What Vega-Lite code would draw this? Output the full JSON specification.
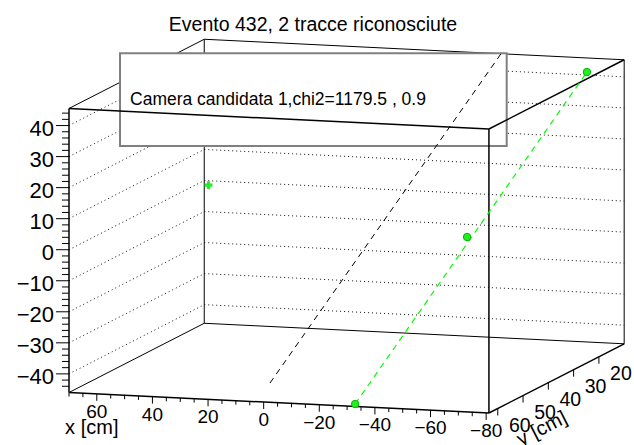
{
  "$schema": "https://vega.github.io/schema/vega-lite/v6.json",
  "width": 634,
  "height": 445,
  "padding": 0,
  "autosize": {"type": "none"},
  "background": "white",
  "config": {"view": {"stroke": null}, "text": {"font": "Liberation Sans", "color": "black"}},
  "title": {"text": "Evento 432, 2 tracce riconosciute", "anchor": "middle", "offset": -50, "baseline": "alphabetic", "fontSize": 19.5, "font": "Liberation Sans", "fontWeight": "normal", "color": "black", "dx": -4},
  "datasets": {
    "pave": [{"left": 0.1893, "right": 0.7992, "top": 0.8802, "bottom": 0.6719, "label": "Camera candidata 1,chi2=1179.5 , 0.9"}],
    "scene": [
      {"part": "back", "x1": 70, "y1": 10, "z1": -46, "x2": 70, "y2": 10, "z2": 45.5},
      {"part": "back", "x1": 70, "y1": 10, "z1": 45.5, "x2": -81, "y2": 10, "z2": 45.5},
      {"part": "back", "x1": 70, "y1": 10, "z1": -46, "x2": -81, "y2": 10, "z2": -46},
      {"part": "back", "x1": -81, "y1": 10, "z1": -46, "x2": -81, "y2": 10, "z2": 45.5},
      {"part": "back", "x1": 70, "y1": 63.5, "z1": 45.5, "x2": 70, "y2": 10, "z2": 45.5},
      {"part": "back", "x1": 70, "y1": 63.5, "z1": -46, "x2": 70, "y2": 10, "z2": -46},
      {"part": "grid", "x1": 70, "y1": 10, "z1": 40, "x2": -81, "y2": 10, "z2": 40},
      {"part": "grid", "x1": 70, "y1": 10, "z1": 30, "x2": -81, "y2": 10, "z2": 30},
      {"part": "grid", "x1": 70, "y1": 10, "z1": 20, "x2": -81, "y2": 10, "z2": 20},
      {"part": "grid", "x1": 70, "y1": 10, "z1": 10, "x2": -81, "y2": 10, "z2": 10},
      {"part": "grid", "x1": 70, "y1": 10, "z1": 0, "x2": -81, "y2": 10, "z2": 0},
      {"part": "grid", "x1": 70, "y1": 10, "z1": -10, "x2": -81, "y2": 10, "z2": -10},
      {"part": "grid", "x1": 70, "y1": 10, "z1": -20, "x2": -81, "y2": 10, "z2": -20},
      {"part": "grid", "x1": 70, "y1": 10, "z1": -30, "x2": -81, "y2": 10, "z2": -30},
      {"part": "grid", "x1": 70, "y1": 10, "z1": -40, "x2": -81, "y2": 10, "z2": -40},
      {"part": "grid", "x1": 70, "y1": 63.5, "z1": 40, "x2": 70, "y2": 10, "z2": 40},
      {"part": "grid", "x1": 70, "y1": 63.5, "z1": 30, "x2": 70, "y2": 10, "z2": 30},
      {"part": "grid", "x1": 70, "y1": 63.5, "z1": 20, "x2": 70, "y2": 10, "z2": 20},
      {"part": "grid", "x1": 70, "y1": 63.5, "z1": 10, "x2": 70, "y2": 10, "z2": 10},
      {"part": "grid", "x1": 70, "y1": 63.5, "z1": 0, "x2": 70, "y2": 10, "z2": 0},
      {"part": "grid", "x1": 70, "y1": 63.5, "z1": -10, "x2": 70, "y2": 10, "z2": -10},
      {"part": "grid", "x1": 70, "y1": 63.5, "z1": -20, "x2": 70, "y2": 10, "z2": -20},
      {"part": "grid", "x1": 70, "y1": 63.5, "z1": -30, "x2": 70, "y2": 10, "z2": -30},
      {"part": "grid", "x1": 70, "y1": 63.5, "z1": -40, "x2": 70, "y2": 10, "z2": -40},
      {"part": "front", "x1": 70, "y1": 63.5, "z1": -46, "x2": 70, "y2": 63.5, "z2": 45.5},
      {"part": "front", "x1": 70, "y1": 63.5, "z1": 45.5, "x2": -81, "y2": 63.5, "z2": 45.5},
      {"part": "front", "x1": 70, "y1": 63.5, "z1": -46, "x2": -81, "y2": 63.5, "z2": -46},
      {"part": "front", "x1": -81, "y1": 63.5, "z1": -46, "x2": -81, "y2": 63.5, "z2": 45.5},
      {"part": "front", "x1": -81, "y1": 63.5, "z1": 45.5, "x2": -81, "y2": 10, "z2": 45.5},
      {"part": "front", "x1": -81, "y1": 63.5, "z1": -46, "x2": -81, "y2": 10, "z2": -46},
      {"part": "black", "x1": 10.1, "y1": 49.9, "z1": -46, "x2": -36.7, "y2": 10, "z2": 45.5},
      {"part": "green", "x1": -31.3, "y1": 61.75, "z1": -46, "x2": -76.6, "y2": 19.9, "z2": 45.5},
      {"part": "hit", "x1": -76.6, "y1": 19.9, "z1": 45.5},
      {"part": "hit", "x1": -52.5, "y1": 40.8, "z1": 0},
      {"part": "hit", "x1": -31.3, "y1": 61.75, "z1": -46},
      {"part": "cross", "x1": 68, "y1": 10.5, "z1": -1.2},
      {"part": "title", "axis": "x", "x1": 71.4, "y1": 63.5, "z1": -59.4, "label": "x [cm]"},
      {"part": "title", "axis": "y", "x1": -77, "y1": 37, "z1": -64, "label": "y [cm]"},
      {"part": "tick", "axis": "z", "v": 40, "major": true, "label": "40"},
      {"part": "tick", "axis": "z", "v": 30, "major": true, "label": "30"},
      {"part": "tick", "axis": "z", "v": 20, "major": true, "label": "20"},
      {"part": "tick", "axis": "z", "v": 10, "major": true, "label": "10"},
      {"part": "tick", "axis": "z", "v": 0, "major": true, "label": "0"},
      {"part": "tick", "axis": "z", "v": -10, "major": true, "label": "−10"},
      {"part": "tick", "axis": "z", "v": -20, "major": true, "label": "−20"},
      {"part": "tick", "axis": "z", "v": -30, "major": true, "label": "−30"},
      {"part": "tick", "axis": "z", "v": -40, "major": true, "label": "−40"},
      {"part": "tick", "axis": "z", "v": 44, "major": false},
      {"part": "tick", "axis": "z", "v": 42, "major": false},
      {"part": "tick", "axis": "z", "v": 38, "major": false},
      {"part": "tick", "axis": "z", "v": 36, "major": false},
      {"part": "tick", "axis": "z", "v": 34, "major": false},
      {"part": "tick", "axis": "z", "v": 32, "major": false},
      {"part": "tick", "axis": "z", "v": 28, "major": false},
      {"part": "tick", "axis": "z", "v": 26, "major": false},
      {"part": "tick", "axis": "z", "v": 24, "major": false},
      {"part": "tick", "axis": "z", "v": 22, "major": false},
      {"part": "tick", "axis": "z", "v": 18, "major": false},
      {"part": "tick", "axis": "z", "v": 16, "major": false},
      {"part": "tick", "axis": "z", "v": 14, "major": false},
      {"part": "tick", "axis": "z", "v": 12, "major": false},
      {"part": "tick", "axis": "z", "v": 8, "major": false},
      {"part": "tick", "axis": "z", "v": 6, "major": false},
      {"part": "tick", "axis": "z", "v": 4, "major": false},
      {"part": "tick", "axis": "z", "v": 2, "major": false},
      {"part": "tick", "axis": "z", "v": -2, "major": false},
      {"part": "tick", "axis": "z", "v": -4, "major": false},
      {"part": "tick", "axis": "z", "v": -6, "major": false},
      {"part": "tick", "axis": "z", "v": -8, "major": false},
      {"part": "tick", "axis": "z", "v": -12, "major": false},
      {"part": "tick", "axis": "z", "v": -14, "major": false},
      {"part": "tick", "axis": "z", "v": -16, "major": false},
      {"part": "tick", "axis": "z", "v": -18, "major": false},
      {"part": "tick", "axis": "z", "v": -22, "major": false},
      {"part": "tick", "axis": "z", "v": -24, "major": false},
      {"part": "tick", "axis": "z", "v": -26, "major": false},
      {"part": "tick", "axis": "z", "v": -28, "major": false},
      {"part": "tick", "axis": "z", "v": -32, "major": false},
      {"part": "tick", "axis": "z", "v": -34, "major": false},
      {"part": "tick", "axis": "z", "v": -36, "major": false},
      {"part": "tick", "axis": "z", "v": -38, "major": false},
      {"part": "tick", "axis": "z", "v": -42, "major": false},
      {"part": "tick", "axis": "z", "v": -44, "major": false},
      {"part": "tick", "axis": "x", "v": 60, "major": true, "label": "60"},
      {"part": "tick", "axis": "x", "v": 40, "major": true, "label": "40"},
      {"part": "tick", "axis": "x", "v": 20, "major": true, "label": "20"},
      {"part": "tick", "axis": "x", "v": 0, "major": true, "label": "0"},
      {"part": "tick", "axis": "x", "v": -20, "major": true, "label": "−20"},
      {"part": "tick", "axis": "x", "v": -40, "major": true, "label": "−40"},
      {"part": "tick", "axis": "x", "v": -60, "major": true, "label": "−60"},
      {"part": "tick", "axis": "x", "v": -80, "major": true, "label": "−80"},
      {"part": "tick", "axis": "x", "v": 70, "major": false},
      {"part": "tick", "axis": "x", "v": 65, "major": false},
      {"part": "tick", "axis": "x", "v": 55, "major": false},
      {"part": "tick", "axis": "x", "v": 50, "major": false},
      {"part": "tick", "axis": "x", "v": 45, "major": false},
      {"part": "tick", "axis": "x", "v": 35, "major": false},
      {"part": "tick", "axis": "x", "v": 30, "major": false},
      {"part": "tick", "axis": "x", "v": 25, "major": false},
      {"part": "tick", "axis": "x", "v": 15, "major": false},
      {"part": "tick", "axis": "x", "v": 10, "major": false},
      {"part": "tick", "axis": "x", "v": 5, "major": false},
      {"part": "tick", "axis": "x", "v": -5, "major": false},
      {"part": "tick", "axis": "x", "v": -10, "major": false},
      {"part": "tick", "axis": "x", "v": -15, "major": false},
      {"part": "tick", "axis": "x", "v": -25, "major": false},
      {"part": "tick", "axis": "x", "v": -30, "major": false},
      {"part": "tick", "axis": "x", "v": -35, "major": false},
      {"part": "tick", "axis": "x", "v": -45, "major": false},
      {"part": "tick", "axis": "x", "v": -50, "major": false},
      {"part": "tick", "axis": "x", "v": -55, "major": false},
      {"part": "tick", "axis": "x", "v": -65, "major": false},
      {"part": "tick", "axis": "x", "v": -70, "major": false},
      {"part": "tick", "axis": "x", "v": -75, "major": false},
      {"part": "tick", "axis": "y", "v": 60, "major": true, "label": "60"},
      {"part": "tick", "axis": "y", "v": 50, "major": true, "label": "50"},
      {"part": "tick", "axis": "y", "v": 40, "major": true, "label": "40"},
      {"part": "tick", "axis": "y", "v": 30, "major": true, "label": "30"},
      {"part": "tick", "axis": "y", "v": 20, "major": true, "label": "20"}
    ]
  },
  "data": {"name": "scene"},
  "transform": [
    {"calculate": "datum.part == 'tick' ? (datum.axis == 'x' ? datum.v : (datum.axis == 'y' ? -81 : 70)) : datum.x1", "as": "x1"},
    {"calculate": "datum.part == 'tick' ? (datum.axis == 'y' ? datum.v : 63.5) : datum.y1", "as": "y1"},
    {"calculate": "datum.part == 'tick' ? (datum.axis == 'z' ? datum.v : -46) : datum.z1", "as": "z1"},
    {"calculate": "69 + (70 - datum.x1) * 2.781 + (63.5 - datum.y1) * 2.528", "as": "sx"},
    {"calculate": "392.5 + (70 - datum.x1) * 0.136 - (63.5 - datum.y1) * 1.294 - (datum.z1 + 46) * 3.104", "as": "sy"},
    {"calculate": "datum.part == 'tick' ? datum.sx - (datum.axis == 'z' ? (datum.major ? 13 : 7) : 0) : 69 + (70 - datum.x2) * 2.781 + (63.5 - datum.y2) * 2.528", "as": "ex"},
    {"calculate": "datum.part == 'tick' ? datum.sy + (datum.axis == 'z' ? 0 : (datum.major ? 7 : 4)) : 392.5 + (70 - datum.x2) * 0.136 - (63.5 - datum.y2) * 1.294 - (datum.z2 + 46) * 3.104", "as": "ey"}
  ],
  "encoding": {
    "x": {"field": "sx", "type": "quantitative", "scale": {"domain": [0, 634], "nice": false, "zero": false}, "axis": null},
    "y": {"field": "sy", "type": "quantitative", "scale": {"domain": [445, 0], "nice": false, "zero": false}, "axis": null}
  },
  "layer": [
    {
      "transform": [{"filter": "datum.part == 'back'"}],
      "mark": {"type": "rule", "color": "black", "strokeWidth": 1},
      "encoding": {"x2": {"field": "ex"}, "y2": {"field": "ey"}}
    },
    {
      "transform": [{"filter": "datum.part == 'grid'"}],
      "mark": {"type": "rule", "color": "#111111", "strokeWidth": 1, "strokeDash": [1, 3]},
      "encoding": {"x2": {"field": "ex"}, "y2": {"field": "ey"}}
    },
    {
      "data": {"name": "pave"},
      "transform": [
        {"calculate": "datum.left * 634", "as": "sx"},
        {"calculate": "datum.right * 634", "as": "ex"},
        {"calculate": "(1 - datum.top) * 445", "as": "sy"},
        {"calculate": "(1 - datum.bottom) * 445", "as": "ey"}
      ],
      "mark": {"type": "rect", "fill": "white", "stroke": "#808080", "strokeWidth": 2},
      "encoding": {"x2": {"field": "ex"}, "y2": {"field": "ey"}}
    },
    {
      "data": {"name": "pave"},
      "transform": [
        {"calculate": "datum.left * 634", "as": "sx"},
        {"calculate": "(1 - (datum.top + datum.bottom) / 2) * 445", "as": "sy"}
      ],
      "mark": {"type": "text", "align": "left", "baseline": "middle", "dx": 10, "fontSize": 17.5, "font": "Liberation Sans"},
      "encoding": {"text": {"field": "label"}}
    },
    {
      "transform": [{"filter": "datum.part == 'front'"}],
      "mark": {"type": "rule", "color": "black", "strokeWidth": 1.5},
      "encoding": {"x2": {"field": "ex"}, "y2": {"field": "ey"}}
    },
    {
      "transform": [{"filter": "datum.part == 'tick'"}],
      "mark": {"type": "rule", "color": "black", "strokeWidth": 1},
      "encoding": {"x2": {"field": "ex"}, "y2": {"field": "ey"}}
    },
    {
      "transform": [{"filter": "datum.part == 'tick' && datum.axis == 'z' && datum.major"}],
      "mark": {"type": "text", "align": "right", "baseline": "alphabetic", "dx": -15, "dy": 10, "fontSize": 22, "font": "Liberation Sans"},
      "encoding": {"text": {"field": "label"}}
    },
    {
      "transform": [{"filter": "datum.part == 'tick' && datum.axis == 'x' && datum.major"}],
      "mark": {"type": "text", "align": "center", "baseline": "alphabetic", "dy": 24, "fontSize": 19, "font": "Liberation Sans"},
      "encoding": {"text": {"field": "label"}}
    },
    {
      "transform": [{"filter": "datum.part == 'tick' && datum.axis == 'y' && datum.major"}],
      "mark": {"type": "text", "align": "center", "baseline": "alphabetic", "dx": 22, "dy": 23, "fontSize": 19.5, "font": "Liberation Sans"},
      "encoding": {"text": {"field": "label"}}
    },
    {
      "transform": [{"filter": "datum.part == 'title' && datum.axis == 'x'"}],
      "mark": {"type": "text", "align": "left", "baseline": "alphabetic", "fontSize": 20, "font": "Liberation Sans"},
      "encoding": {"text": {"field": "label"}}
    },
    {
      "transform": [{"filter": "datum.part == 'title' && datum.axis == 'y'"}],
      "mark": {"type": "text", "align": "center", "baseline": "alphabetic", "angle": -27, "fontSize": 20, "font": "Liberation Sans"},
      "encoding": {"text": {"field": "label"}}
    },
    {
      "transform": [{"filter": "datum.part == 'black'"}],
      "mark": {"type": "rule", "color": "black", "strokeWidth": 1, "strokeDash": [6, 5]},
      "encoding": {"x2": {"field": "ex"}, "y2": {"field": "ey"}}
    },
    {
      "transform": [{"filter": "datum.part == 'green'"}],
      "mark": {"type": "rule", "color": "#00ff00", "strokeWidth": 1.2, "strokeDash": [6, 5]},
      "encoding": {"x2": {"field": "ex"}, "y2": {"field": "ey"}}
    },
    {
      "transform": [{"filter": "datum.part == 'hit'"}],
      "mark": {"type": "point", "shape": "circle", "filled": true, "size": 55, "fill": "#22ee22", "stroke": "#00b800", "strokeWidth": 1, "opacity": 1}
    },
    {
      "transform": [{"filter": "datum.part == 'cross'"}],
      "mark": {"type": "point", "shape": "cross", "filled": true, "size": 60, "color": "#22ee22", "opacity": 1}
    }
  ]
}
